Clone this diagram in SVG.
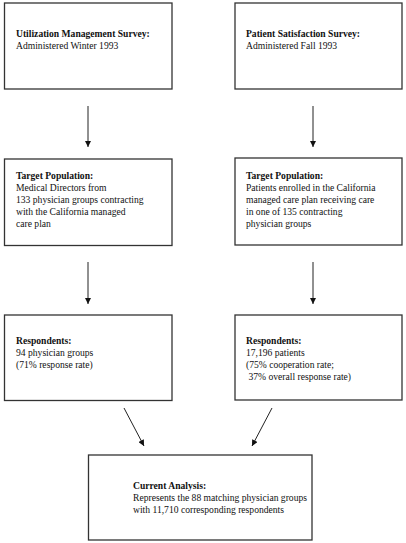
<svg xmlns="http://www.w3.org/2000/svg" width="406" height="543" viewBox="0 0 406 543">
<defs>
<style>
.box{fill:#fff;stroke:#333;stroke-width:1.3}
text{font-family:"Liberation Serif","Times New Roman",serif;font-size:9.6px;fill:#111}
.b{font-weight:bold}
.conn line{stroke:#222;stroke-width:1}
</style>
<marker id="ah" viewBox="0 0 10 10" refX="10" refY="5" markerWidth="7" markerHeight="6" markerUnits="userSpaceOnUse" orient="auto">
<path d="M0,0 L10,5 L0,10 z" fill="#111"/>
</marker>
</defs>
<rect width="406" height="543" fill="#fff"/>
<g id="n1">
<rect class="box" x="4.5" y="3" width="167.5" height="86"/>
<text x="16" y="37" class="b">Utilization Management Survey:</text>
<text x="16" y="49">Administered Winter 1993</text>
</g>
<g id="n2">
<rect class="box" x="235" y="3" width="167" height="86"/>
<text x="246" y="37" class="b">Patient Satisfaction Survey:</text>
<text x="246" y="49">Administered Fall 1993</text>
</g>
<g id="n3">
<rect class="box" x="4.5" y="159" width="167.5" height="86.5"/>
<text x="16" y="179" class="b">Target Population:</text>
<text x="16" y="191">Medical Directors from</text>
<text x="16" y="203">133 physician groups contracting</text>
<text x="16" y="215">with the California managed</text>
<text x="16" y="227">care plan</text>
</g>
<g id="n4">
<rect class="box" x="235" y="158" width="167" height="87"/>
<text x="246" y="179" class="b">Target Population:</text>
<text x="246" y="191">Patients enrolled in the California</text>
<text x="246" y="203">managed care plan receiving care</text>
<text x="246" y="215">in one of 135 contracting</text>
<text x="246" y="227">physician groups</text>
</g>
<g id="n5">
<rect class="box" x="4.5" y="315" width="167.5" height="85.5"/>
<text x="16" y="344" class="b">Respondents:</text>
<text x="16" y="356">94 physician groups</text>
<text x="16" y="368">(71% response rate)</text>
</g>
<g id="n6">
<rect class="box" x="235" y="315" width="167" height="85"/>
<text x="246" y="344" class="b">Respondents:</text>
<text x="246" y="356">17,196 patients</text>
<text x="246" y="368">(75% cooperation rate;</text>
<text x="248.5" y="380">37% overall response rate)</text>
</g>
<g id="n7">
<rect class="box" x="88.5" y="455" width="223.5" height="85"/>
<text x="133" y="489" class="b">Current Analysis:</text>
<text x="133" y="501">Represents the 88 matching physician groups</text>
<text x="133" y="513">with 11,710 corresponding respondents</text>
</g>
<g class="conn">
<line x1="88" y1="106" x2="88" y2="147" marker-end="url(#ah)"/>
<line x1="313" y1="106" x2="313" y2="147" marker-end="url(#ah)"/>
<line x1="88" y1="262" x2="88" y2="304" marker-end="url(#ah)"/>
<line x1="313" y1="262" x2="313" y2="304" marker-end="url(#ah)"/>
<line x1="124" y1="408" x2="144" y2="446" marker-end="url(#ah)"/>
<line x1="272" y1="408" x2="252" y2="446" marker-end="url(#ah)"/>
</g>
</svg>
